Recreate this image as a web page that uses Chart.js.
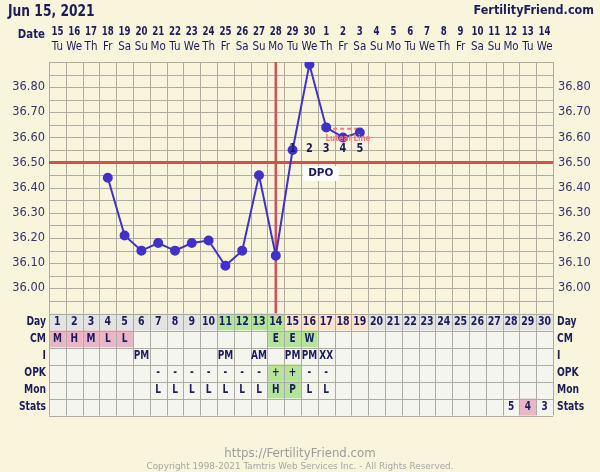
<!DOCTYPE html>
<html>
<head>
<meta charset="utf-8">
<script src="https://cdn.jsdelivr.net/npm/chart.js@4/dist/chart.umd.min.js"></script>
<style>
  html, body { margin: 0; padding: 0; background: #f8f5dc; }
  #wrap { width: 600px; height: 472px; }
</style>
</head>
<body>
<div id="wrap"><canvas id="chart" width="600" height="472"></canvas></div>
<script>
const dayNums = ["1","2","3","4","5","6","7","8","9","10","11","12","13","14","15","16","17","18","19","20","21","22","23","24","25","26","27","28","29","30"];
const dateLabels = ["15","16","17","18","19","20","21","22","23","24","25","26","27","28","29","30","1","2","3","4","5","6","7","8","9","10","11","12","13","14"];
const weekdays = ["Tu","We","Th","Fr","Sa","Su","Mo","Tu","We","Th","Fr","Sa","Su","Mo","Tu","We","Th","Fr","Sa","Su","Mo","Tu","We","Th","Fr","Sa","Su","Mo","Tu","We"];
const temps = [null,null,null,36.44,36.21,36.15,36.18,36.15,36.18,36.19,36.09,36.15,36.45,36.13,36.55,36.89,36.64,36.60,36.62,null,null,null,null,null,null,null,null,null,null,null];
const yTicks = [36.00,36.10,36.20,36.30,36.40,36.50,36.60,36.70,36.80];
const coverline = 36.50;
const ovulationDay = 14;
const lutealLine = [null,null,null,null,null,null,null,null,null,null,null,null,null,null,null,null,36.635,36.635,36.635,null,null,null,null,null,null,null,null,null,null,null];
const dpo = ["","","","","","","","","","","","","","","1","2","3","4","5","","","","","","","","","","",""];
const dayPhase = ["","","","","","","","","","","fertile","fertile","fertile","fertile","luteal","luteal","luteal","luteal","luteal","","","","","","","","","","",""];
const cm = ["M","H","M","L","L","","","","","","","","","E","E","W","","","","","","","","","","","","","",""];
const intercourse = ["","","","","","PM","","","","","PM","","AM","","PM","PM","XX","","","","","","","","","","","","",""];
const opk = ["","","","","","","-","-","-","-","-","-","-","+","+","-","-","","","","","","","","","","","","",""];
const monitor = ["","","","","","","L","L","L","L","L","L","L","H","P","L","L","","","","","","","","","","","","",""];
const stats = ["","","","","","","","","","","","","","","","","","","","","","","","","","","","5","4","3"];
const statsMark = 29;
const rowNames = ["Day","CM","I","OPK","Mon","Stats"];

const FONT = "'DejaVu Sans', Verdana, sans-serif";
const NAVY = "#1c1c5c";
const GRID = "#aeaca2";
const GREEN = "#b4e49c";
const PINK = "#e8b6c6";
const PEACH = "#fde3cb";
const CELL = "#f5f5ef";
const DAYCELL = "#e3e3e3";

// text with horizontal squeeze, the original face is narrower than DejaVu
function txt(ctx, s, x, y, font, color, align, sx) {
  ctx.save();
  ctx.font = font;
  ctx.fillStyle = color;
  ctx.textAlign = align || "center";
  ctx.textBaseline = "middle";
  ctx.translate(x, y);
  ctx.scale(sx || 1, 1);
  ctx.fillText(s, 0, 0);
  ctx.restore();
}

function cellFill(row, i) {
  if (row === 0) {
    if (dayPhase[i] === "fertile") return GREEN;
    if (dayPhase[i] === "luteal") return PEACH;
    return DAYCELL;
  }
  if (row === 1 && cm[i]) return (cm[i] === "E" || cm[i] === "W") ? GREEN : PINK;
  if (row === 3 && opk[i] === "+") return GREEN;
  if (row === 4 && (monitor[i] === "H" || monitor[i] === "P")) return GREEN;
  if (row === 5 && i === statsMark - 1) return PINK;
  return CELL;
}

function cellText(row, i) {
  return [dayNums, cm, intercourse, opk, monitor, stats][row][i];
}

const fertilityPlugin = {
  id: "fertility",
  beforeDraw(chart) {
    const ctx = chart.ctx;
    ctx.save();
    ctx.fillStyle = "#f8f5dc";
    ctx.fillRect(0, 0, chart.width, chart.height);
    ctx.restore();
  },
  beforeDatasetsDraw(chart) {
    const { ctx, chartArea: a, scales: { x, y } } = chart;
    const w = (a.right - a.left) / dayNums.length;
    ctx.save();
    ctx.strokeStyle = GRID;
    ctx.lineWidth = 1;
    ctx.beginPath();
    for (let i = 0; i <= dayNums.length; i++) {
      const px = Math.round(a.left + i * w) + 0.5;
      ctx.moveTo(px, a.top);
      ctx.lineTo(px, a.bottom);
    }
    for (let k = 0; k <= 20; k++) {
      const py = Math.round(y.getPixelForValue(35.9 + k * 0.05)) + 0.5;
      ctx.moveTo(a.left, py);
      ctx.lineTo(a.right, py);
    }
    ctx.stroke();

    // coverline and ovulation line
    ctx.strokeStyle = "#cf5252";
    ctx.lineWidth = 3;
    ctx.beginPath();
    const cy = y.getPixelForValue(coverline);
    ctx.moveTo(a.left, cy);
    ctx.lineTo(a.right, cy);
    ctx.stroke();
    ctx.lineWidth = 2.5;
    ctx.beginPath();
    const ox = x.getPixelForValue(ovulationDay - 1);
    ctx.moveTo(ox, a.top);
    ctx.lineTo(ox, a.bottom);
    ctx.stroke();

    // axis labels
    yTicks.forEach(v => {
      const py = y.getPixelForValue(v);
      txt(ctx, v.toFixed(2), a.left - 4, py, "12px " + FONT, "#34346a", "right", 0.95);
      txt(ctx, v.toFixed(2), a.right + 5, py, "12px " + FONT, "#34346a", "left", 0.95);
    });
    ctx.restore();
  },
  afterDatasetsDraw(chart) {
    const { ctx, chartArea: a, scales: { x, y } } = chart;
    const w = (a.right - a.left) / dayNums.length;
    ctx.save();

    // luteal label, DPO numbers, DPO box
    txt(ctx, "Luteal Line", x.getPixelForValue(17) + 5, y.getPixelForValue(36.595), "bold 9px " + FONT, "#f07c7c", "center", 0.8);
    dpo.forEach((d, i) => {
      if (d) txt(ctx, d, x.getPixelForValue(i), y.getPixelForValue(36.553), "bold 11.5px " + FONT, NAVY, "center", 0.85);
    });
    const bx = (x.getPixelForValue(15) + x.getPixelForValue(16)) / 2 + 3;
    const by = y.getPixelForValue(36.457);
    ctx.fillStyle = "#ffffff";
    ctx.beginPath();
    ctx.roundRect(bx - 18, by - 7.5, 36, 15, 3);
    ctx.fill();
    txt(ctx, "DPO", bx, by, "bold 11px " + FONT, NAVY, "center", 0.95);

    // header
    txt(ctx, "Jun 15, 2021", 8, 12, "bold 15px " + FONT, NAVY, "left", 0.82);
    txt(ctx, "FertilityFriend.com", 594, 11, "bold 12.5px " + FONT, NAVY, "right", 0.9);
    txt(ctx, "Date", 45, 35, "bold 12px " + FONT, NAVY, "right", 0.85);
    dateLabels.forEach((d, i) => {
      const px = x.getPixelForValue(i);
      txt(ctx, d, px, 32, "bold 11.5px " + FONT, NAVY, "center", 0.75);
      txt(ctx, weekdays[i], px, 47, "12px " + FONT, NAVY, "center", 0.86);
    });

    // table
    const rowH = 17;
    const top = a.bottom;
    rowNames.forEach((name, r) => {
      const ry = top + r * rowH;
      for (let i = 0; i < dayNums.length; i++) {
        ctx.fillStyle = cellFill(r, i);
        ctx.fillRect(a.left + i * w, ry, w, rowH);
      }
      txt(ctx, name, a.left - 3, ry + rowH / 2 + 0.5, "bold 11.5px " + FONT, NAVY, "right", 0.8);
      txt(ctx, name, a.right + 4, ry + rowH / 2 + 0.5, "bold 11.5px " + FONT, NAVY, "left", 0.8);
    });
    ctx.strokeStyle = GRID;
    ctx.lineWidth = 1;
    ctx.beginPath();
    for (let r = 0; r <= rowNames.length; r++) {
      const py = Math.round(top + r * rowH) + 0.5;
      ctx.moveTo(a.left, py);
      ctx.lineTo(a.right, py);
    }
    for (let i = 0; i <= dayNums.length; i++) {
      const px = Math.round(a.left + i * w) + 0.5;
      ctx.moveTo(px, top);
      ctx.lineTo(px, top + rowNames.length * rowH);
    }
    ctx.stroke();
    rowNames.forEach((name, r) => {
      const ry = top + r * rowH + rowH / 2 + 0.5;
      for (let i = 0; i < dayNums.length; i++) {
        const s = cellText(r, i);
        if (s) txt(ctx, s, x.getPixelForValue(i), ry, "bold 11.5px " + FONT, NAVY, "center", r === 0 ? 0.82 : 0.78);
      }
    });

    // footer
    txt(ctx, "https://FertilityFriend.com", 300, 454, "12px " + FONT, "#9c9c9c", "center", 0.98);
    txt(ctx, "Copyright 1998-2021 Tamtris Web Services Inc. - All Rights Reserved.", 300, 467, "9.5px " + FONT, "#a6a6a6", "center", 0.93);
    ctx.restore();
  }
};

new Chart(document.getElementById("chart"), {
  type: "line",
  data: {
    labels: dayNums,
    datasets: [
      { label: "Temp", data: temps, borderColor: "#4032c8", backgroundColor: "#4032c8", borderWidth: 2, pointRadius: 4, pointHoverRadius: 4, spanGaps: false, tension: 0 },
      { label: "Luteal", data: lutealLine, borderColor: "#f07c7c", borderWidth: 2, borderDash: [4, 3], pointRadius: 0, order: 2 }
    ]
  },
  options: {
    responsive: false,
    animation: false,
    layout: { padding: { left: 49, right: 47, top: 62, bottom: 158.5 } },
    plugins: { legend: { display: false }, tooltip: { enabled: false } },
    scales: {
      x: { type: "category", display: false, offset: true },
      y: { display: false, min: 35.9, max: 36.9 }
    }
  },
  plugins: [fertilityPlugin]
});
</script>
</body>
</html>
